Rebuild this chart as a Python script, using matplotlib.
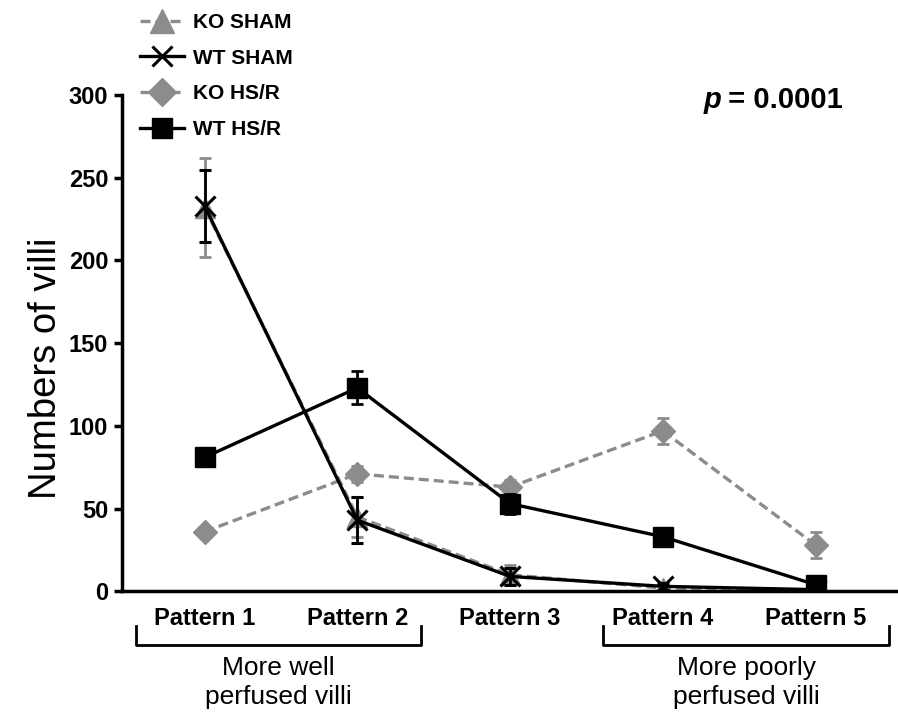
import matplotlib.pyplot as plt
import matplotlib.transforms as mtransforms
from matplotlib.lines import Line2D

plt.rcParams['font.family'] = ['Liberation Sans', 'DejaVu Sans']

# Data
# ---------------------------------------
patterns = ["Pattern 1", "Pattern 2", "Pattern 3", "Pattern 4", "Pattern 5"]
x = [1, 2, 3, 4, 5]

ko_sham = [232, 45, 10, 2, 0.5]
ko_sham_err = [30, 12, 6, 2, 1]

wt_sham = [233, 43, 9, 3, 1]
wt_sham_err = [22, 14, 5, 2, 1]

ko_hsr = [36, 71, 63, 97, 28]
ko_hsr_err = [3, 5, 4, 8, 8]

wt_hsr = [81, 123, 53, 33, 4]
wt_hsr_err = [3, 10, 6, 3, 2]

gray = "#8c8c8c"
dash = (0, (3, 1.5))

# Figure
# ---------------------------------------
fig = plt.figure(figsize=(8.98, 7.15), dpi=100)
ax = fig.add_axes([0.136, 0.173, 0.864, 0.694])

err_kw = dict(capsize=4, elinewidth=2, capthick=2)
ax.errorbar(x, ko_sham, yerr=ko_sham_err, color=gray, ls=dash, lw=2.4,
            marker="^", ms=14, zorder=2, **err_kw)
ax.errorbar(x, wt_sham, yerr=wt_sham_err, color="black", ls="-", lw=2.4,
            marker="x", ms=15, mew=2.2, zorder=3, **err_kw)
ax.errorbar(x, ko_hsr, yerr=ko_hsr_err, color=gray, ls=dash, lw=2.4,
            marker="D", ms=12, zorder=2, **err_kw)
ax.errorbar(x, wt_hsr, yerr=wt_hsr_err, color="black", ls="-", lw=2.4,
            marker="s", ms=14, zorder=4, **err_kw)

ax.set_xlim(0.46, 5.54)
ax.set_ylim(0, 300)
ax.set_yticks(range(0, 301, 50))
ax.set_xticks(x)
ax.set_xticklabels(patterns)

for s in ["top", "right"]:
    ax.spines[s].set_visible(False)
for s in ["left", "bottom"]:
    ax.spines[s].set_linewidth(2.5)

ax.tick_params(axis="y", direction="out", length=6, width=2.5, labelsize=17, pad=4)
ax.tick_params(axis="x", length=0, labelsize=17, pad=11)
for lab in ax.get_xticklabels() + ax.get_yticklabels():
    lab.set_fontweight("bold")

ax.set_ylabel("Numbers of villi", fontsize=27.5)
ax.yaxis.set_label_coords(-0.075, 0.45)

# p value
ax.text(0.749, 0.99, "p", transform=ax.transAxes, fontsize=21,
        fontweight="bold", style="italic", ha="left", va="center")
ax.text(0.771, 0.99, " = 0.0001", transform=ax.transAxes, fontsize=21,
        fontweight="bold", ha="left", va="center")

# Legend (plain handles, no error bars)
handles = [
    Line2D([], [], color=gray, ls=dash, lw=2.4, marker="^", ms=17),
    Line2D([], [], color="black", ls="-", lw=2.4, marker="x", ms=15, mew=2.2),
    Line2D([], [], color=gray, ls=dash, lw=2.4, marker="D", ms=14),
    Line2D([], [], color="black", ls="-", lw=2.4, marker="s", ms=14),
]
labels = ["KO SHAM", "WT SHAM", "KO HS/R", "WT HS/R"]
fig.legend(handles, labels, loc="upper left", bbox_to_anchor=(0.135, 1.008),
           frameon=False, prop={"weight": "bold", "size": 15},
           handlelength=2.1, handletextpad=0.45, labelspacing=0.8)

# Brackets under patterns
trans = mtransforms.blended_transform_factory(ax.transData, ax.transAxes)
for x0, x1, txt in [(0.55, 2.42, "More well\nperfused villi"),
                    (3.61, 5.48, "More poorly\nperfused villi")]:
    ax.add_line(Line2D([x0, x0, x1, x1], [-0.069, -0.109, -0.109, -0.069],
                       transform=trans, color="black", lw=2, clip_on=False))
    ax.text((x0 + x1) / 2, -0.184, txt, transform=trans, ha="center", va="center",
            fontsize=19, linespacing=1.25)

plt.savefig("out.png", dpi=100)
plt.close()
